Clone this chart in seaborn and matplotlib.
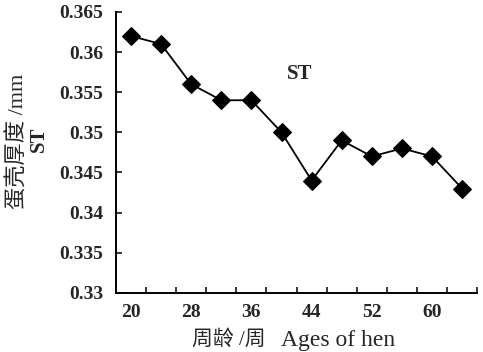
import matplotlib
matplotlib.use("Agg")
import matplotlib.pyplot as plt
import pandas as pd
import seaborn as sns

# weeks of age (one point every 4 weeks) and shell thickness (mm)
WEEKS = [20, 24, 28, 32, 36, 40, 44, 48, 52, 56, 60, 64]
ST = [0.362, 0.361, 0.356, 0.354, 0.354, 0.350, 0.344, 0.349, 0.347, 0.348, 0.347, 0.343]
TICK_LABELS = ["20", "28", "36", "44", "52", "60"]
Y_TICKS = [0.33, 0.335, 0.34, 0.345, 0.35, 0.355, 0.36, 0.365]

if __name__ == "__main__":
    sns.set_style("white")
    plt.rcParams["font.family"] = ["Liberation Serif", "Noto Sans CJK SC"]

    df = pd.DataFrame({"pos": range(len(WEEKS)), "week": WEEKS, "st": ST})

    fig = plt.figure(figsize=(4.83, 3.52), dpi=100)
    ax = fig.add_axes([0.240, 0.168, 0.748, 0.798])

    sns.lineplot(
        data=df, x="pos", y="st", ax=ax, color="black", linewidth=1.3,
        marker="D", markersize=9, markeredgecolor="black",
    )

    # category-style axis: ticks between categories, labels every other one
    n = len(WEEKS)
    ax.set_xlim(-0.5, n - 0.5)
    ax.set_xticks([i - 0.5 for i in range(n + 1)])
    ax.set_xticklabels([])
    ax.set_xticks(list(range(0, n, 2)), minor=True)
    ax.set_xticklabels(TICK_LABELS, minor=True)
    ax.tick_params(axis="x", which="major", direction="in", length=4.5, width=1.3,
                   bottom=True)
    ax.tick_params(axis="x", which="minor", length=0, pad=8, labelsize=14)

    ax.set_ylim(0.33, 0.365)
    ax.set_yticks(Y_TICKS)
    ax.set_yticklabels([f"{v:g}" for v in Y_TICKS])
    ax.tick_params(axis="y", direction="in", length=4.5, width=1.3, left=True,
                   labelsize=14, pad=9)
    for lab in ax.get_yticklabels() + ax.get_xticklabels(minor=True):
        lab.set_fontweight("semibold")

    for side in ["top", "right"]:
        ax.spines[side].set_visible(False)
    for side in ["left", "bottom"]:
        ax.spines[side].set_color("black")
        ax.spines[side].set_linewidth(1.4)

    ax.set_xlabel("")
    ax.set_ylabel("")
    fig.text(0.473, 0.034, "周龄 /周", fontsize=15, ha="center", va="center")
    fig.text(0.700, 0.034, "Ages of hen", fontsize=17, ha="center", va="center")
    fig.text(0.038, 0.597, "蛋壳厚度 /mm", fontsize=16, rotation=90,
             ha="center", va="center")
    fig.text(0.080, 0.605, "ST", fontsize=15, fontweight="bold", rotation=90,
             ha="center", va="center")
    ax.text(5.6, 0.3573, "ST", fontsize=15, fontweight="bold", ha="center",
            va="center")

    fig.savefig("out.png", dpi=100)
    plt.close(fig)
